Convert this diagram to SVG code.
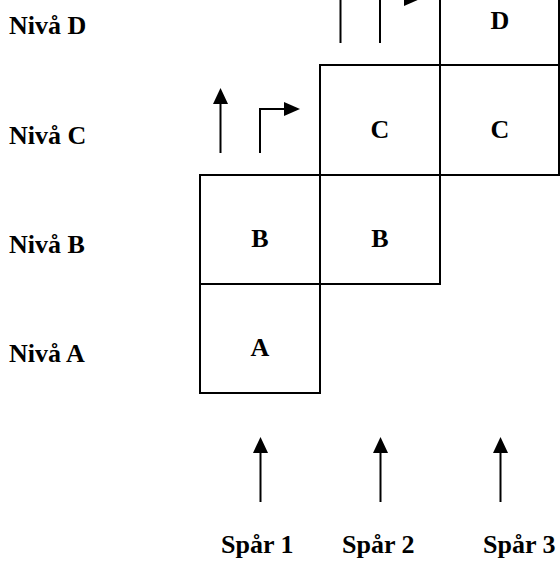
<svg xmlns="http://www.w3.org/2000/svg" width="560" height="562" viewBox="0 0 560 562">
<style>
.bx{fill:#fff;stroke:#000;stroke-width:2}
.t{font-family:"Liberation Serif","Times New Roman",serif;font-weight:bold;font-size:26px;fill:#000}
.c{text-anchor:middle}
.ln{fill:none;stroke:#000;stroke-width:2}
.ah{fill:#000}
</style>
<rect width="560" height="562" fill="#fff"/>
<g id="labels">
<text class="t" x="9" y="34">Nivå D</text>
<text class="t" x="9" y="144">Nivå C</text>
<text class="t" x="9" y="253">Nivå B</text>
<text class="t" x="9" y="362">Nivå A</text>
<text class="t" x="221" y="553">Spår 1</text>
<text class="t" x="342" y="553">Spår 2</text>
<text class="t" x="483" y="553">Spår 3</text>
</g>
<g id="boxA"><rect class="bx" x="200" y="284" width="120" height="109"/><text class="t c" x="260" y="356">A</text></g>
<g id="boxB1"><rect class="bx" x="200" y="175" width="120" height="109"/><text class="t c" x="260" y="247">B</text></g>
<g id="boxB2"><rect class="bx" x="320" y="175" width="120" height="109"/><text class="t c" x="380" y="247">B</text></g>
<g id="boxC2"><rect class="bx" x="320" y="65" width="120" height="110"/><text class="t c" x="380" y="138">C</text></g>
<g id="boxC3"><rect class="bx" x="440" y="65" width="119" height="110"/><text class="t c" x="500" y="138">C</text></g>
<g id="boxD3"><rect class="bx" x="440" y="-45" width="119" height="110"/><text class="t c" x="500" y="29">D</text></g>
<g id="connectors">
<line class="ln" x1="220.5" y1="153" x2="220.5" y2="102"/>
<polygon class="ah" points="213,104 228,104 220.5,88"/>
<polyline class="ln" points="260,153 260,109 285,109"/>
<polygon class="ah" points="284,102 284,116 300,109"/>
<line class="ln" x1="340.5" y1="43" x2="340.5" y2="-10"/>
<polyline class="ln" points="380,43 380,-1 405,-1"/>
<polygon class="ah" points="404,-8 404,6 420,-1"/>
<line class="ln" x1="260.5" y1="502" x2="260.5" y2="451"/>
<polygon class="ah" points="253,453 268,453 260.5,437"/>
<line class="ln" x1="380.5" y1="502" x2="380.5" y2="451"/>
<polygon class="ah" points="373,453 388,453 380.5,437"/>
<line class="ln" x1="500.5" y1="502" x2="500.5" y2="451"/>
<polygon class="ah" points="493,453 508,453 500.5,437"/>
</g>
</svg>
